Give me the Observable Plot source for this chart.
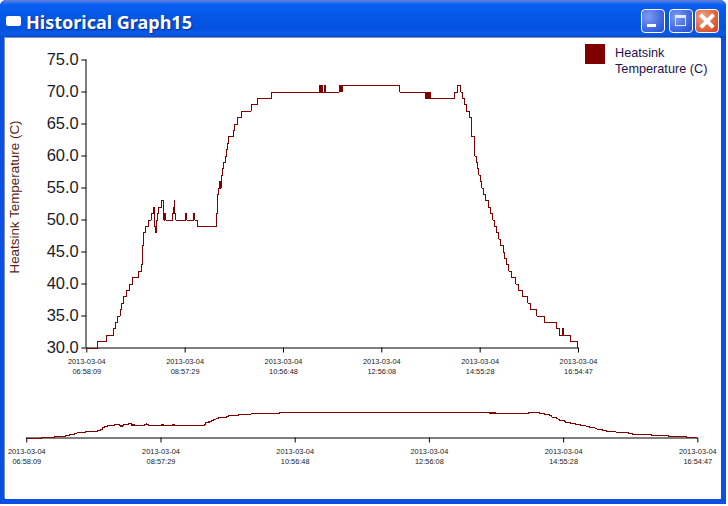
<!DOCTYPE html>
<html>
<head>
<meta charset="utf-8">
<script src="https://cdn.jsdelivr.net/npm/d3@7"></script>
<script src="https://cdn.jsdelivr.net/npm/@observablehq/plot@0.6"></script>
<style>
html,body{margin:0;padding:0;width:728px;height:506px;overflow:hidden;background:#fff}
#win{position:absolute;left:0;top:0;width:726px;height:504px;background:#0a50e4;overflow:hidden;border-radius:6px 6px 0 0}
#bar{position:absolute;left:0;top:0;width:726px;height:38px;background:linear-gradient(#6d78d0 0,#3a78f0 2px,#0f62f2 4px,#0a5ef0 6px,#0558e6 14px,#0453e0 28px,#0a5ae8 34px,#0348c8 38px)}
#icon{position:absolute;left:6px;top:16px;width:15px;height:10px;background:#fff;border-radius:2px}
#title{position:absolute;left:26px;top:9px;font:bold 18px "Noto Sans",sans-serif;color:#fff;line-height:26px;text-shadow:1px 1px 1px #0a2a90;white-space:nowrap}
.btn{position:absolute;top:9px;width:22px;height:22px;border:1px solid #fff;border-radius:4px;background:radial-gradient(circle at 30% 30%,#7f9cf0,#3560dc 70%,#2a50c8)}
#min{left:641px}#max{left:669px}
#cls{left:695px;background:radial-gradient(circle at 30% 30%,#f0a080,#dc5a30 70%,#c84020)}
#min i{position:absolute;left:5px;top:14px;width:9px;height:3px;background:#fff}
#max i{position:absolute;left:5px;top:5px;width:11px;height:11px;border:1px solid #dfe8ff;border-top:3px solid #dfe8ff;box-sizing:border-box}
#cls i{position:absolute;left:2px;top:9px;width:18px;height:3.5px;background:#fff;transform:rotate(45deg)}
#cls b{position:absolute;left:2px;top:9px;width:18px;height:3.5px;background:#fff;transform:rotate(-45deg)}
#client{position:absolute;left:5px;top:38px;width:716px;height:461px;background:#fff;box-shadow:-1px -1px 0 #7f8fb0}
#main,#over{position:absolute;left:0}
#main{top:0}#over{top:360px}
#legend{position:absolute;left:580px;top:6px;width:130px;height:40px;font:12.7px/16px "Liberation Sans",Arial,sans-serif;color:#26104e}
#swatch{position:absolute;left:0;top:0;width:20px;height:20px;background:#800000}
#ltext{position:absolute;left:30px;top:1px}
</style>
</head>
<body>
<div id="win">
  <div id="bar"></div>
  <div id="icon"></div>
  <div id="title">Historical Graph15</div>
  <div class="btn" id="min"><i></i></div>
  <div class="btn" id="max"><i></i></div>
  <div class="btn" id="cls"><i></i><b></b></div>
  <div id="client">
    <div id="main"></div>
    <div id="over"></div>
    <div id="legend"><div id="swatch"></div><div id="ltext">Heatsink<br>Temperature (C)</div></div>
  </div>
</div>
<script>
// minutes after the first sample, and the temperature held from that minute on
const minutes = [
  0,13.4,24.3,32.8,34.8,37.6,40.5,42.5,44.5,48.5,52.2,55.8,63.1,65.9,67.5,68.4,69.2,71.6,75.2,78.1,81.3,
  82.5,83.7,84.1,84.5,84.9,86.1,87.4,90.6,
  93.4,93.8,94.2,94.6,95,95.4,95.8,96.2,104.3,105.5,106.3,106.8,108,
  120.1,120.5,120.9,121.3,
  129.8,130.2,130.6,131,131.4,134.6,
  157.7,158.9,160.1,161.3,162.2,163,163.8,165,166.2,168.2,169,169.4,169.8,170.2,171.9,177.5,179.1,183.2,188,199.3,207.4,224.4,
  282.6,283.2,284.9,285.5,288.6,289.2,
  306.5,307.1,307.7,308.1,308.5,309.1,309.7,379.7,
  411.2,411.8,412.4,413.6,414.2,414.8,415.4,416,416.6,417.6,
  446.3,449.9,453.2,454,456,458,460.5,464.5,466.9,470.6,
  472.6,473.8,475.8,478.3,479.1,481.5,483.5,487.6,489.6,492.4,494.8,497.3,500.1,502.5,505.3,507,
  509.8,512.2,515.4,520.7,523.9,528.8,535.3,538.5,545.8,555.5,570.4,573.7,
  576.9,577.3,577.7,578.1,587,595.5,596.6
];
const temps = [
  30,31,32,33,34,35,36,37,38,39,40,41,42,43,46,47,48,49,50,51,52,
  49,48,49,48,50,51,52,53,
  50,51,50,51,50,51,50,50,51,52,53,51,50,
  51,50,51,50,
  51,50,51,50,50,49,
  51,54,55,56,55,56,57,58,59,60,61,60,61,62,63,64,65,66,67,68,69,70,
  71,70,71,70,71,70,
  71,70,71,70,71,70,71,70,
  69,70,69,70,69,70,69,70,69,69,
  70,71,71,70,69,68,67,66,63,60,
  59,58,57,56,55,54,53,52,51,50,49,48,47,46,45,44,
  43,42,41,40,39,38,37,36,35,34,33,32,
  33,32,33,32,31,30,30
];
const tickStamps = ["2013-03-04 06:58:09","2013-03-04 08:57:29","2013-03-04 10:56:48","2013-03-04 12:56:08","2013-03-04 14:55:28","2013-03-04 16:54:47"];
const yTicks = [30,35,40,45,50,55,60,65,70,75];
const yTitle = "Heatsink Temperature (C)";

const parse = s => new Date(s.replace(" ","T")+"Z");
const start = parse(tickStamps[0]);
const rows = minutes.map((m,i)=>({t:new Date(+start+m*60000),v:temps[i]}));
const tickDates = tickStamps.map(parse);
const label = d => tickStamps[tickDates.findIndex(x=>+x===+d)].replace(" ","\n");
const domainX = [tickDates[0],tickDates[tickDates.length-1]];
const font = '"Liberation Sans",Arial,sans-serif';
const lineMark = () => Plot.line(rows,{x:"t",y:"v",curve:"step-after",stroke:"#800000",strokeWidth:1,shapeRendering:"crispEdges"});
const xAxis = () => Plot.axisX(tickDates,{anchor:"bottom",tickSize:5,tickPadding:4,tickFormat:label,fontSize:7.4,lineHeight:1.35,label:null,fill:"#222",stroke:"#000"});

const main = Plot.plot({
  width:716,height:345,marginLeft:81.3,marginRight:143,marginTop:21.5,marginBottom:35.5,
  style:{background:"transparent",fontFamily:font},
  x:{type:"utc",domain:domainX},
  y:{domain:[30,75]},
  marks:[
    Plot.axisY(yTicks,{anchor:"left",tickSize:5,tickPadding:3,tickFormat:d=>d.toFixed(1),fontSize:16.5,label:null,fill:"#1c1c28",stroke:"#000"}),
    xAxis(),
    Plot.ruleX([domainX[0]],{stroke:"#000",dx:-0.8}),
    Plot.ruleY([30],{stroke:"#000"}),
    lineMark(),
    Plot.text([yTitle],{text:d=>d,frameAnchor:"left",textAnchor:"middle",rotate:-90,dx:-72,dy:-7,fontSize:13.4,fill:"#5a1a10"})
  ]
});
document.getElementById("main").appendChild(main);

const over = Plot.plot({
  width:716,height:80,marginLeft:21.3,marginRight:23.7,marginTop:13.5,marginBottom:40.5,
  style:{background:"transparent",fontFamily:font},
  x:{type:"utc",domain:domainX},
  y:{domain:[30,71],axis:null},
  marks:[
    xAxis(),
    Plot.ruleY([30],{stroke:"#000"}),
    lineMark()
  ]
});
document.getElementById("over").appendChild(over);
</script>
</body>
</html>
